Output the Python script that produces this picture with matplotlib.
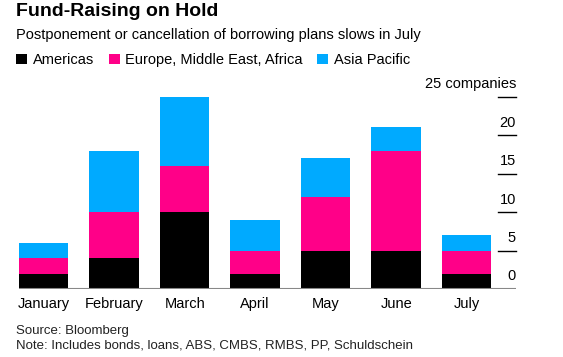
import matplotlib.pyplot as plt
from matplotlib.patches import Patch
import numpy as np

plt.rcParams['font.family'] = ['Liberation Sans', 'DejaVu Sans']

months = ['January', 'February', 'March', 'April', 'May', 'June', 'July']
americas = [2, 4, 10, 2, 5, 5, 2]
emea = [2, 6, 6, 3, 7, 13, 3]
asia_pac = [2, 8, 9, 4, 5, 3, 2]
yticks = [0, 5, 10, 15, 20, 25]
series_names = ['Americas', 'Europe, Middle East, Africa', 'Asia Pacific']
series_colors = ['#000000', '#ff0088', '#00aaff']

W, H = 563, 357
fig = plt.figure(figsize=(W / 100, H / 100), dpi=100)
ax = fig.add_axes([19 / W, (H - 289) / H, (516 - 19) / W, (289 - 96.7) / H])

x = np.arange(len(months))
am = np.array(americas)
em = np.array(emea)
ap = np.array(asia_pac)
ax.bar(x, am, width=0.7, color=series_colors[0])
ax.bar(x, em, width=0.7, bottom=am, color=series_colors[1])
ax.bar(x, ap, width=0.7, bottom=am + em, color=series_colors[2])

ax.set_xlim(-0.35, 6.70)
ax.set_ylim(0, 25)
for s in ax.spines.values():
    s.set_visible(False)
ax.axhline(0, color='#888888', lw=1.5, zorder=5)
ax.set_yticks([])
ax.set_xticks(x)
ax.set_xticklabels(months, fontsize=10.5)
ax.tick_params(axis='x', length=0, pad=6)

# right-side tick lines with labels sitting above them
tr = ax.get_yaxis_transform()
for t in yticks:
    if t > 0:
        ax.plot([0.964, 1.0], [t, t], color='black', lw=1, transform=tr, clip_on=False)
    lab = '25 companies' if t == 25 else str(t)
    ax.annotate(lab, (1.0, t), xycoords=tr, xytext=(0, 4), textcoords='offset points',
                ha='right', va='bottom', fontsize=10.5)

fig.text(16 / W, 1 - 3 / H, 'Fund-Raising on Hold', fontsize=14, fontweight='bold', va='top')
fig.text(16 / W, 1 - 28 / H, 'Postponement or cancellation of borrowing plans slows in July',
         fontsize=10.5, va='top')

handles = [Patch(facecolor=c, edgecolor='none') for c in series_colors]
fig.legend(handles, series_names, loc='upper left', bbox_to_anchor=(16 / W, 1 - 53 / H),
           ncol=3, frameon=False, fontsize=10.5, handlelength=0.75, handleheight=0.75,
           handletextpad=0.4, columnspacing=1.0, borderaxespad=0, borderpad=0)

fig.text(16 / W, 1 - 331 / H, 'Source: Bloomberg', fontsize=9.5, va='center', color='#222222')
fig.text(16 / W, 1 - 346 / H, 'Note: Includes bonds, loans, ABS, CMBS, RMBS, PP, Schuldschein',
         fontsize=9.5, va='center', color='#222222')

fig.savefig('out.png', dpi=100)
